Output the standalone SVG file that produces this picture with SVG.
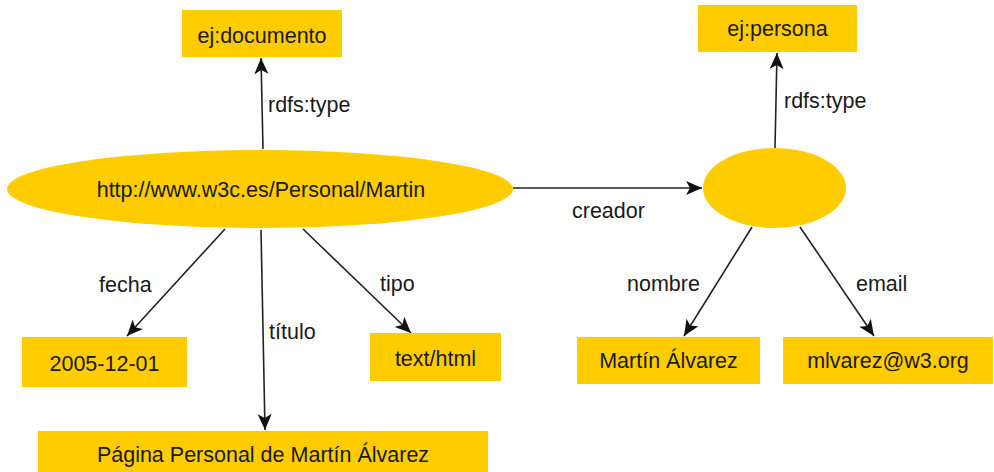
<svg xmlns="http://www.w3.org/2000/svg" width="994" height="472" viewBox="0 0 994 472">
<style>
.n{fill:#FFCC00;stroke:none}
.t{font-family:"Liberation Sans",Arial,sans-serif;font-size:21.5px;fill:#1a1a1a;text-anchor:middle}
.l{font-family:"Liberation Sans",Arial,sans-serif;font-size:21.5px;fill:#1a1a1a}
.e{stroke:#222;stroke-width:1.6;fill:none;marker-end:url(#a)}
</style>
<defs>
<marker id="a" markerUnits="userSpaceOnUse" markerWidth="20" markerHeight="20" viewBox="0 0 20 20" refX="18" refY="10" orient="auto">
<path d="M2,3 L18,10 L2,17 L6,10 Z" fill="#111"/>
</marker>
</defs>
<rect width="994" height="472" fill="#fff"/>
<g id="edges">
<line class="e" x1="263" y1="149" x2="261" y2="58"/>
<text class="l" x="268" y="112">rdfs:type</text>
<line class="e" x1="775" y1="148" x2="777" y2="53"/>
<text class="l" x="784" y="108">rdfs:type</text>
<line class="e" x1="513" y1="188" x2="702" y2="188"/>
<text class="l" x="572" y="218">creador</text>
<line class="e" x1="225" y1="229" x2="127" y2="336"/>
<text class="l" x="99" y="292">fecha</text>
<line class="e" x1="261" y1="230" x2="265" y2="430"/>
<text class="l" x="269" y="339">título</text>
<line class="e" x1="303" y1="229" x2="411" y2="333"/>
<text class="l" x="380" y="291">tipo</text>
<line class="e" x1="752" y1="227" x2="684" y2="336"/>
<text class="l" x="627" y="291">nombre</text>
<line class="e" x1="800" y1="227" x2="874" y2="336"/>
<text class="l" x="856" y="291">email</text>
</g>
<g id="documento"><rect class="n" x="182" y="10" width="160" height="47"/><text class="t" x="262" y="43">ej:documento</text></g>
<g id="persona"><rect class="n" x="698" y="5" width="159" height="47"/><text class="t" x="777.5" y="36">ej:persona</text></g>
<g id="martin"><ellipse class="n" cx="260" cy="189" rx="253" ry="39"/><text class="t" x="261" y="197">http://www.w3c.es/Personal/Martin</text></g>
<g id="blank"><ellipse class="n" cx="774.5" cy="188" rx="71.5" ry="40"/></g>
<g id="fecha"><rect class="n" x="22" y="337" width="165" height="50"/><text class="t" x="104.5" y="371">2005-12-01</text></g>
<g id="titulo"><rect class="n" x="38" y="431" width="450" height="45"/><text class="t" x="263" y="462">Página Personal de Martín Álvarez</text></g>
<g id="tipo"><rect class="n" x="370" y="333" width="131" height="48"/><text class="t" x="435.5" y="366">text/html</text></g>
<g id="nombre"><rect class="n" x="577" y="337" width="183" height="47"/><text class="t" x="668.5" y="368">Martín Álvarez</text></g>
<g id="email"><rect class="n" x="783" y="337" width="210" height="47"/><text class="t" x="888" y="368">mlvarez@w3.org</text></g>
</svg>
